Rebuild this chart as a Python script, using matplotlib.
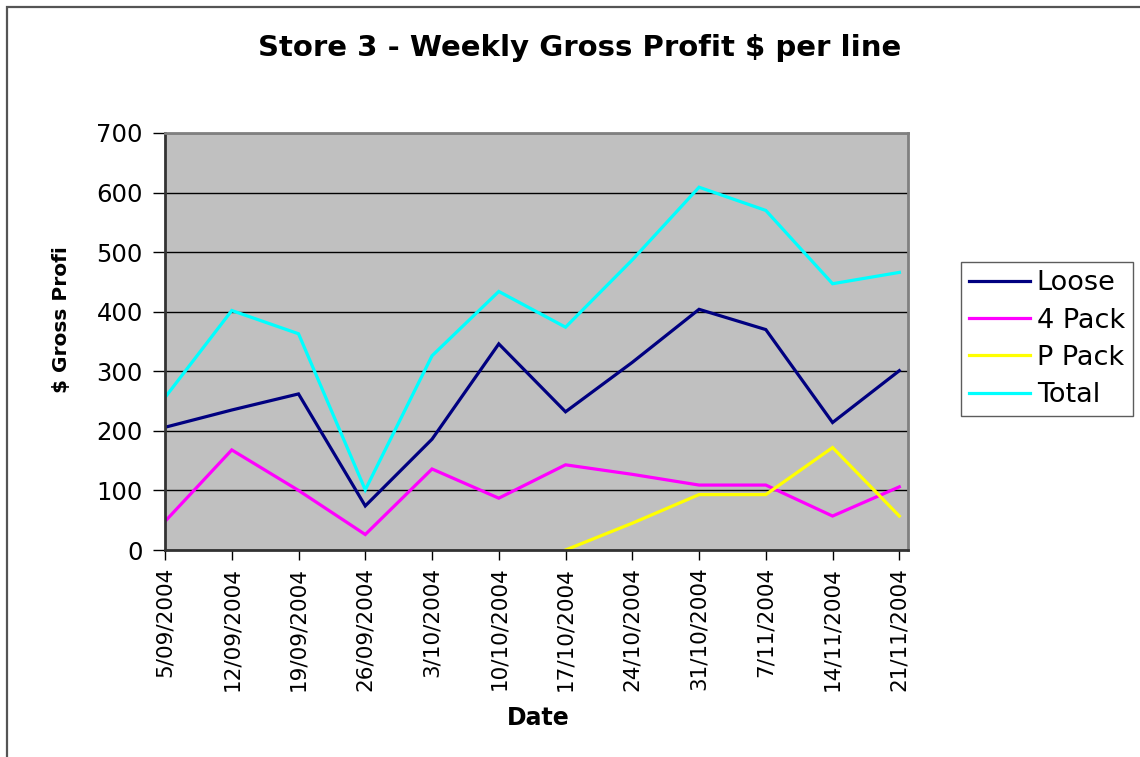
import matplotlib
matplotlib.use("Agg")
import matplotlib.pyplot as plt
import numpy as np
from matplotlib.patches import Rectangle

plt.rcParams['font.family'] = ['DejaVu Sans']

dates = ["5/09/2004", "12/09/2004", "19/09/2004", "26/09/2004", "3/10/2004",
         "10/10/2004", "17/10/2004", "24/10/2004", "31/10/2004", "7/11/2004",
         "14/11/2004", "21/11/2004"]
loose = [206, 235, 262, 74, 186, 346, 232, 315, 404, 370, 214, 301]
four_pack = [48, 168, 100, 26, 136, 87, 143, 127, 109, 109, 57, 106]
p_pack = [np.nan, np.nan, np.nan, np.nan, np.nan, np.nan, 0, 45, 93, 93, 172, 57]
total = [256, 402, 363, 101, 326, 434, 374, 487, 609, 570, 447, 466]

series = [("Loose", loose, "#000080"), ("4 Pack", four_pack, "#FF00FF"),
          ("P Pack", p_pack, "#FFFF00"), ("Total", total, "#00FFFF")]

W, H = 1140, 757
fig = plt.figure(figsize=(W / 100, H / 100), dpi=100)
fig.patch.set_facecolor("white")

# outer chart border
fig.patches.append(Rectangle((7 / W, -0.01), 1.05, 1 - 7 / H + 0.01, transform=fig.transFigure,
                             fill=False, edgecolor="#555555", linewidth=1.6))

ax = fig.add_axes([165 / W, 1 - 550 / H, (908 - 165) / W, (550 - 133) / H])
ax.set_facecolor("#C0C0C0")
x = np.arange(len(dates))
for name, vals, col in series:
    ax.plot(x, vals, color=col, linewidth=2.3, label=name, solid_joinstyle="miter")

ax.set_xlim(0, 11.13)
ax.set_ylim(0, 700)
ax.set_yticks(np.arange(0, 701, 100))
ax.set_xticks(x)
ax.set_xticklabels(dates, rotation=90, fontsize=15.5)
ax.tick_params(axis="y", labelsize=17.5, length=9, width=1, direction="out", pad=7)
ax.tick_params(axis="x", length=7, width=1, direction="out", pad=5)
ax.yaxis.grid(True, color="black", linewidth=1)
ax.set_axisbelow(True)
for s in ["left", "bottom"]:
    ax.spines[s].set_color("#333333")
    ax.spines[s].set_linewidth(2)
for s in ["top", "right"]:
    ax.spines[s].set_color("#808080")
    ax.spines[s].set_linewidth(2)

fig.text(62 / W, 1 - 320 / H, "$ Gross Profi", rotation=90, ha="center", va="center",
         fontsize=14.5, fontweight="bold")
fig.text(538 / W, 1 - 718 / H, "Date", ha="center", va="center",
         fontsize=17, fontweight="bold")
fig.text(580 / W, 1 - 48 / H, "Store 3 - Weekly Gross Profit $ per line", ha="center", va="center",
         fontsize=21, fontweight="bold")

leg = fig.legend(loc="upper left", bbox_to_anchor=(961 / W, 1 - 262 / H), fontsize=19.5,
                 handlelength=2.25, handletextpad=0.25, borderpad=0.3, labelspacing=0.42,
                 frameon=True, fancybox=False, edgecolor="#333333", borderaxespad=0)
leg.get_frame().set_linewidth(1)

fig.savefig("out.png", dpi=100)
